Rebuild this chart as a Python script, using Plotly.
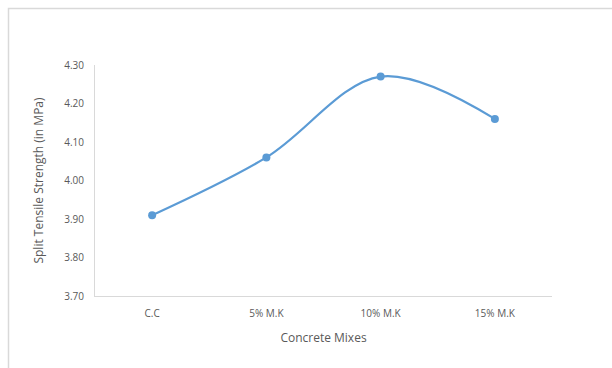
import plotly.graph_objects as go

# Split tensile strength of each concrete mix
mixes = ["C.C", "5% M.K", "10% M.K", "15% M.K"]
strength = [3.91, 4.06, 4.27, 4.16]
y_ticks = [3.70, 3.80, 3.90, 4.00, 4.10, 4.20, 4.30]

W, H = 612, 368
L, R, T, B = 95, 60, 65, 72
plot_w = W - L - R
plot_h = H - T - B

fig = go.Figure(
    go.Scatter(
        x=mixes,
        y=strength,
        mode="lines+markers",
        line=dict(color="#5B9BD5", width=2.25, shape="spline", smoothing=1.0),
        marker=dict(color="#5B9BD5", size=8),
        showlegend=False,
        hoverinfo="x+y",
    )
)

axis_font = dict(family="Open Sans, Liberation Sans, sans-serif", size=10, color="#595959")
title_font = dict(family="Open Sans, Liberation Sans, sans-serif", size=12, color="#595959")

fig.update_xaxes(
    type="category",
    range=[-0.5, 3.5],
    showline=True,
    linecolor="#D9D9D9",
    linewidth=1,
    showgrid=False,
    zeroline=False,
    ticks="",
    tickfont=axis_font,
    ticklabelstandoff=8,
    title=dict(text="Concrete Mixes", font=title_font, standoff=14),
)
fig.update_yaxes(
    range=[3.70, 4.30],
    tickvals=y_ticks,
    ticktext=[f"{v:.2f}" for v in y_ticks],
    showline=True,
    linecolor="#D9D9D9",
    linewidth=1,
    showgrid=False,
    zeroline=False,
    ticks="",
    tickfont=axis_font,
    ticklabelstandoff=8,
    title=dict(text="Split Tensile Strength (in MPa)", font=title_font, standoff=18),
)

# light frame around the chart area, running off the right and bottom edges
fig.add_shape(
    type="rect",
    xref="paper", yref="paper",
    x0=(8.5 - L) / plot_w, x1=(W + 20 - L) / plot_w,
    y0=-(B + 20) / plot_h, y1=(H - 8.5 - B) / plot_h,
    line=dict(color="#D9D9D9", width=1.5),
    layer="below",
)

fig.update_layout(
    width=W,
    height=H,
    margin=dict(l=L, r=R, t=T, b=B),
    paper_bgcolor="white",
    plot_bgcolor="white",
)

fig.write_html("out.html")
